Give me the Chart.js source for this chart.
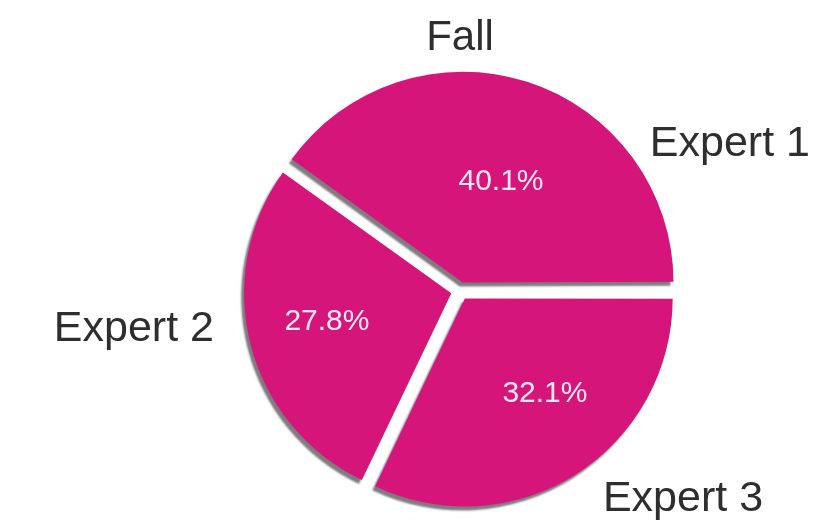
<!DOCTYPE html>
<html>
<head>
<meta charset="utf-8">
<title>Fall</title>
<script src="https://cdn.jsdelivr.net/npm/chart.js@4.4.1/dist/chart.umd.min.js"></script>
<style>
  html, body { margin: 0; padding: 0; background: #fff; }
  #wrap { width: 815px; height: 524px; }
</style>
</head>
<body>
<div id="wrap"><canvas id="pie"></canvas></div>
<script>
// данные
const chartTitle = 'Fall';
const categories = ['Expert 1', 'Expert 2', 'Expert 3'];
const shares = [40.1, 27.8, 32.1];

// подписи: угол (град., против часовой от 3 часов) и расстояние в долях радиуса
const valueLabelPos = [[69.4, 0.563], [193.1, 0.66], [-50.5, 0.645]];
const nameLabelPos = [[28.6, 1.485], [186.6, 1.586], [-43.0, 1.473]];

const sliceColor = '#d6157a';

// секторы идут по часовой стрелке от 3 часов: Expert 3, Expert 2, Expert 1
const drawOrder = [2, 1, 0];

// тень под секторами
const shadowPlugin = {
    id: 'sliceShadow',
    beforeDatasetsDraw(chart) {
        const ctx = chart.ctx;
        ctx.save();
        ctx.shadowColor = 'rgba(95, 90, 95, 0.8)';
        ctx.shadowBlur = 2;
        ctx.shadowOffsetX = -3;
        ctx.shadowOffsetY = 4;
    },
    afterDatasetsDraw(chart) {
        chart.ctx.restore();
    }
};

// заголовок, проценты и названия
const labelsPlugin = {
    id: 'pieLabels',
    afterDraw(chart) {
        const ctx = chart.ctx;
        const arcs = chart.getDatasetMeta(0).data;
        if (!arcs.length) return;
        const cx = arcs[0].x;
        const cy = arcs[0].y;
        const r = arcs[0].outerRadius;

        ctx.save();
        ctx.textAlign = 'center';
        ctx.textBaseline = 'middle';

        ctx.fillStyle = '#2e2e2e';
        ctx.font = '42px "Liberation Sans", Arial, sans-serif';
        ctx.fillText(chartTitle, cx, 38);

        drawOrder.forEach(src => {
            const [va, vd] = valueLabelPos[src];
            const [na, nd] = nameLabelPos[src];
            const vr = va * Math.PI / 180;
            const nr = na * Math.PI / 180;

            ctx.fillStyle = '#fbe7f2';
            ctx.font = '30px "Liberation Sans", Arial, sans-serif';
            ctx.fillText(shares[src].toFixed(1) + '%',
                cx + Math.cos(vr) * r * vd, cy - Math.sin(vr) * r * vd);

            ctx.fillStyle = '#2e2e2e';
            ctx.font = '43px "Liberation Sans", Arial, sans-serif';
            ctx.fillText(categories[src],
                cx + Math.cos(nr) * r * nd, cy - Math.sin(nr) * r * nd);
        });
        ctx.restore();
    }
};

new Chart(document.getElementById('pie'), {
    type: 'pie',
    data: {
        labels: drawOrder.map(i => categories[i]),
        datasets: [{
            data: drawOrder.map(i => shares[i]),
            backgroundColor: sliceColor,
            borderWidth: 0,
            offset: 36
        }]
    },
    options: {
        responsive: true,
        maintainAspectRatio: false,
        animation: false,
        rotation: 90,
        radius: 207,
        layout: { padding: { left: 105, right: 0, top: 58, bottom: 0 } },
        plugins: {
            legend: { display: false },
            tooltip: { enabled: false },
            title: { display: false }
        }
    },
    plugins: [shadowPlugin, labelsPlugin]
});
</script>
</body>
</html>
